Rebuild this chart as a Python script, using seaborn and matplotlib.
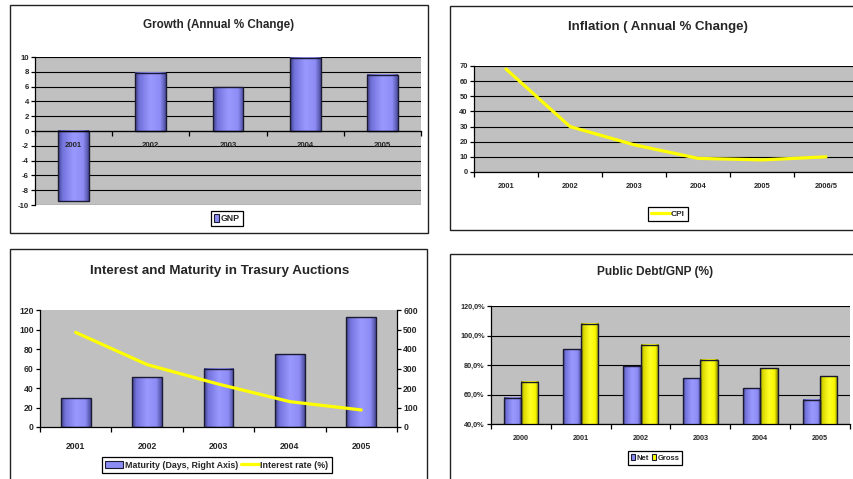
import numpy as np
import pandas as pd
import matplotlib
matplotlib.use("Agg")
import matplotlib.pyplot as plt
import seaborn as sns
from matplotlib.patches import Rectangle, Patch
from matplotlib.lines import Line2D
from matplotlib.colors import LinearSegmentedColormap
from matplotlib.ticker import FuncFormatter, FixedLocator, NullFormatter

# ---- data -------------------------------------------------------------
growth_years = ["2001", "2002", "2003", "2004", "2005"]
gnp_growth = [-9.5, 7.9, 5.9, 9.9, 7.6]

cpi_years = ["2001", "2002", "2003", "2004", "2005", "2006/5"]
cpi_inflation = [68, 30, 18, 9, 8, 10]

auction_years = ["2001", "2002", "2003", "2004", "2005"]
maturity_days = [148, 256, 300, 372, 562]
interest_rate = [97, 64, 44, 26, 17.5]

debt_years = ["2000", "2001", "2002", "2003", "2004", "2005"]
net_debt = [57.9, 90.8, 79.1, 71.0, 64.2, 56.3]
gross_debt = [68.7, 107.8, 93.8, 83.6, 77.7, 72.3]

# ---- style ------------------------------------------------------------
sns.set_theme(style="white")
plt.rcParams["font.family"] = ["Liberation Sans Narrow", "Liberation Sans", "DejaVu Sans"]
plt.rcParams["font.weight"] = "bold"
plt.rcParams["axes.unicode_minus"] = False

W, H = 854, 479
PLOT_BG = "#C0C0C0"
BLUE = "#8C8CF5"
YELLOW = "#FFFF00"
EDGE = "#1A1A33"
BLUE_STOPS = [(0.0, (0.26, 0.26, 0.55)), (0.14, (0.45, 0.45, 0.86)),
              (0.5, (0.60, 0.60, 1.0)), (0.82, (0.55, 0.55, 0.96)),
              (1.0, (0.30, 0.30, 0.62))]
YELLOW_STOPS = [(0.0, (0.48, 0.48, 0.0)), (0.14, (0.85, 0.85, 0.0)),
                (0.5, (1.0, 1.0, 0.15)), (0.82, (0.97, 0.97, 0.0)),
                (1.0, (0.52, 0.52, 0.0))]

fig = plt.figure(figsize=(W / 100, H / 100), dpi=100)
fig.patch.set_facecolor("white")


def px_axes(left, top, right, bottom):
    return fig.add_axes([left / W, 1 - bottom / H, (right - left) / W, (bottom - top) / H])


def frame(x0, y0, x1, y1):
    fig.patches.append(Rectangle((x0 / W, 1 - y1 / H), (x1 - x0) / W, (y1 - y0) / H,
                                 transform=fig.transFigure, fill=False,
                                 edgecolor="#222222", linewidth=1.0))


def title(x, y, s, size):
    fig.text(x / W, 1 - y / H, s, ha="center", va="center", fontsize=size,
             fontweight="bold")


def shade_bars(ax, bars, stops):
    cmap = LinearSegmentedColormap.from_list("shade", stops)
    grad = np.linspace(0, 1, 64)[None, :]
    for p in bars:
        x, y, w, h = p.get_x(), p.get_y(), p.get_width(), p.get_height()
        ax.imshow(grad, cmap=cmap, extent=(x, x + w, y, y + h), aspect="auto",
                  interpolation="bilinear", zorder=1.0)
        p.set_facecolor("none")
        p.set_edgecolor(EDGE)
        p.set_linewidth(1.0)
        p.set_zorder(1.05)


def style_axes(ax, n, tick_size, pad):
    ax.set_facecolor(PLOT_BG)
    for side in ("top", "right"):
        ax.spines[side].set_visible(False)
    for side in ("left", "bottom"):
        ax.spines[side].set_color("black")
        ax.spines[side].set_linewidth(0.9)
    ax.set_xlim(-0.5, n - 0.5)
    ax.xaxis.set_minor_locator(FixedLocator(np.arange(-0.5, n, 1.0)))
    ax.xaxis.set_minor_formatter(NullFormatter())
    ax.tick_params(axis="x", which="major", length=0, pad=pad, labelsize=tick_size)
    ax.tick_params(axis="x", which="minor", length=3.5, width=0.9, color="black",
                   direction="out", bottom=True)
    ax.tick_params(axis="y", which="major", length=3, width=0.9, color="black",
                   direction="out", left=True, labelsize=tick_size, pad=1.5)
    ax.set_xlabel("")
    ax.set_ylabel("")


def box_legend(ax, handles, labels, cx, cy, size, ncol=1, **kw):
    leg = ax.legend(handles, labels, loc="center", bbox_to_anchor=(cx / W, 1 - cy / H),
                    bbox_transform=fig.transFigure, ncol=ncol, fontsize=size,
                    frameon=True, fancybox=False, framealpha=1, edgecolor="black",
                    borderpad=0.35, handletextpad=0.15, columnspacing=0.4,
                    borderaxespad=0, **kw)
    leg.get_frame().set_linewidth(0.9)
    return leg


# ---- panel frames ------------------------------------------------------
frame(10, 5, 428, 233)
frame(450, 6, 860, 230)
frame(10, 249, 427, 485)
frame(450, 254, 860, 485)

# ---- Growth -----------------------------------------------------------
ax1 = px_axes(35, 57, 421, 205)
sns.barplot(x=growth_years, y=gnp_growth, ax=ax1, color=BLUE, width=0.4, saturation=1)
style_axes(ax1, len(growth_years), 5.6, 8)
shade_bars(ax1, ax1.patches, BLUE_STOPS)
ax1.set_axisbelow("line")
ax1.set_ylim(-10, 10)
ax1.set_yticks(np.arange(-10, 11, 2))
for v in np.arange(-10, 11, 2):
    ax1.axhline(v, color="black", linewidth=0.8, zorder=0.5)
ax1.spines["bottom"].set_position(("data", 0))
ax1.set_xlim(-0.5, len(growth_years) - 0.5)
title(219, 25, "Growth (Annual % Change)", 8.4)
box_legend(ax1, [Patch(facecolor=BLUE, edgecolor=EDGE, linewidth=0.8)], ["GNP"],
           227, 218.5, 6.3, handlelength=0.6, handleheight=0.9)

# ---- Inflation --------------------------------------------------------
ax2 = px_axes(474, 66, 858, 172)
sns.lineplot(x=np.arange(len(cpi_years)), y=cpi_inflation, ax=ax2, color=YELLOW,
             linewidth=2.3, zorder=3)
style_axes(ax2, len(cpi_years), 5.4, 8)
ax2.set_xticks(np.arange(len(cpi_years)))
ax2.set_xticklabels(cpi_years)
ax2.set_ylim(0, 70)
ax2.set_yticks(np.arange(0, 71, 10))
ax2.grid(axis="y", color="black", linewidth=0.8)
ax2.set_axisbelow(True)
title(658, 27, "Inflation ( Annual % Change)", 9.5)
box_legend(ax2, [Line2D([], [], color=YELLOW, linewidth=2.3)], ["CPI"],
           668, 214, 6, handlelength=2.2)

# ---- Interest and maturity --------------------------------------------
ax3 = px_axes(40, 310, 397, 427)
sns.barplot(x=auction_years, y=maturity_days, ax=ax3, color=BLUE, width=0.42, saturation=1)
style_axes(ax3, len(auction_years), 6.2, 11)
shade_bars(ax3, ax3.patches, BLUE_STOPS)
ax3.set_ylim(0, 600)
ax3.set_yticks(np.arange(0, 601, 100))
ax3.set_xlim(-0.5, len(auction_years) - 0.5)

ax3b = ax3.twinx()
sns.lineplot(x=np.arange(len(auction_years)), y=interest_rate, ax=ax3b, color=YELLOW,
             linewidth=2.3)
ax3b.patch.set_visible(False)
ax3b.set_ylim(0, 120)
ax3b.set_yticks(np.arange(0, 121, 20))
ax3b.set_ylabel("")
for s in ax3b.spines.values():
    s.set_visible(False)
ax3b.set_xlim(-0.5, len(auction_years) - 0.5)

# maturity (bars) reads on the right, interest rate (line) on the left
ax3.yaxis.set_label_position("right")
ax3.tick_params(axis="y", which="major", length=3, width=0.9, color="black",
                direction="out", right=True, left=False, labelright=True,
                labelleft=False, labelsize=6.2, pad=1.5)
ax3.spines["right"].set_visible(True)
ax3.spines["right"].set_color("black")
ax3.spines["right"].set_linewidth(0.9)
ax3b.tick_params(axis="y", which="major", length=3, width=0.9, color="black",
                 direction="out", left=True, right=False, labelleft=True,
                 labelright=False, labelsize=6.2, pad=1.5)
title(220, 271, "Interest and Maturity in Trasury Auctions", 9.6)
box_legend(ax3b,
           [Patch(facecolor=BLUE, edgecolor=EDGE, linewidth=0.8),
            Line2D([], [], color=YELLOW, linewidth=2.3)],
           ["Maturity (Days, Right Axis)", "Interest rate (%)"],
           217, 465, 6.4, ncol=2, handlelength=2.0)

# ---- Public debt ------------------------------------------------------
debt = pd.DataFrame({
    "year": debt_years * 2,
    "share": net_debt + gross_debt,
    "series": ["Net"] * len(debt_years) + ["Gross"] * len(debt_years),
})
ax4 = px_axes(491, 306, 850, 424)
sns.barplot(data=debt, x="year", y="share", hue="series", ax=ax4,
            palette={"Net": BLUE, "Gross": YELLOW}, width=0.58, saturation=1,
            legend=False)
style_axes(ax4, len(debt_years), 5.2, 8)
shade_bars(ax4, ax4.containers[0], BLUE_STOPS)
shade_bars(ax4, ax4.containers[1], YELLOW_STOPS)
ax4.set_ylim(40, 120)
ax4.set_yticks(np.arange(40, 121, 20))
ax4.yaxis.set_major_formatter(FuncFormatter(lambda v, _: f"{v:.1f}%".replace(".", ",")))
ax4.grid(axis="y", color="black", linewidth=0.8)
ax4.set_axisbelow(True)
ax4.set_xlim(-0.5, len(debt_years) - 0.5)
title(655, 272, "Public Debt/GNP (%)", 8.6)
box_legend(ax4,
           [Patch(facecolor=BLUE, edgecolor=EDGE, linewidth=0.8),
            Patch(facecolor=YELLOW, edgecolor=EDGE, linewidth=0.8)],
           ["Net", "Gross"], 655, 458, 5.5, ncol=2, handlelength=0.6,
           handleheight=0.9)

fig.savefig("out.png", dpi=100)
